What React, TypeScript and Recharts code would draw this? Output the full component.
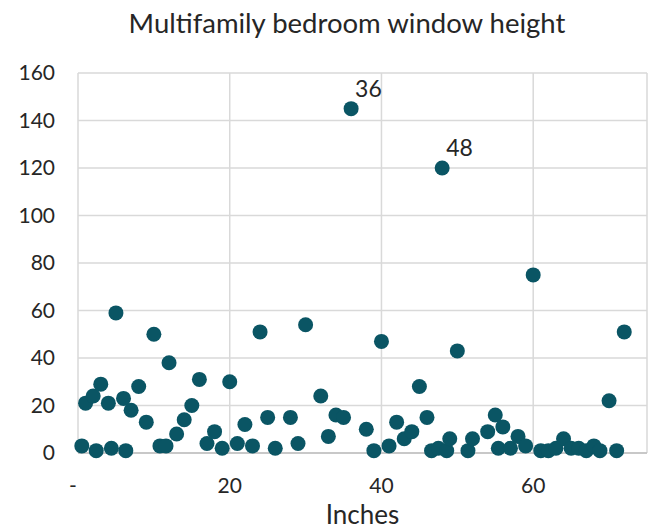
import React from 'react';
import { ScatterChart, Scatter, XAxis, YAxis, CartesianGrid } from 'recharts';

// window height in inches
const inches = [
  0.5, 1, 2, 2.4, 3, 4, 4.4, 5, 6, 6.3, 7, 8, 9, 10, 10.8, 11.6, 12, 13, 14, 15,
  16, 17, 18, 19, 20, 21, 22, 23, 24, 25, 26, 28, 29, 30, 32, 33, 34, 35, 36, 38,
  39, 40, 41, 42, 43, 44, 45, 46, 46.6, 47.5, 48, 48.6, 49, 50, 51.4, 52, 54, 55, 55.4, 56,
  57, 58, 59, 60, 61, 62, 63, 64, 65, 66, 67, 68, 68.8, 70, 71, 72,
];

// number of windows
const counts = [
  3, 21, 24, 1, 29, 21, 2, 59, 23, 1, 18, 28, 13, 50, 3, 3, 38, 8, 14, 20,
  31, 4, 9, 2, 30, 4, 12, 3, 51, 15, 2, 15, 4, 54, 24, 7, 16, 15, 145, 10,
  1, 47, 3, 13, 6, 9, 28, 15, 1, 2, 120, 1, 6, 43, 1, 6, 9, 16, 2, 11,
  2, 7, 3, 75, 1, 1, 2, 6, 2, 2, 1, 3, 1, 22, 1, 51,
];

const labeledInches = [36, 48];

const xTicks = [0, 20, 40, 60];
const yTicks = [0, 20, 40, 60, 80, 100, 120, 140, 160];

const data = inches.map((x, i) => ({
  x,
  y: counts[i],
  label: labeledInches.includes(x) ? String(x) : '',
}));

const DOT = '#0a5564';
const TEXT = '#262626';
const FONT = 'Lato, sans-serif';

function XTick({ x, y, payload }: any) {
  const zero = payload.value === 0;
  return (
    <text
      x={zero ? x - 5 : x}
      y={y}
      dy="0.71em"
      textAnchor="middle"
      fill={TEXT}
      fontSize={21}
      fontFamily={FONT}
    >
      {zero ? '-' : payload.value}
    </text>
  );
}

function Dot(props: any) {
  const { cx, cy, payload } = props;
  return (
    <g>
      <circle cx={cx} cy={cy} r={7.5} fill={DOT} />
      {payload.label ? (
        <text x={cx + 4} y={cy - 12} fill={TEXT} fontSize={23} fontFamily={FONT}>
          {payload.label}
        </text>
      ) : null}
    </g>
  );
}

export default function App() {
  return (
    <div style={{ position: 'relative', width: 652, height: 531, fontFamily: FONT, background: '#fff' }}>
      <style>{'body{margin:0}'}</style>
      <div
        style={{
          position: 'absolute',
          top: 6,
          left: 97,
          width: 500,
          textAlign: 'center',
          fontSize: 27.5,
          lineHeight: '34px',
          color: TEXT,
          whiteSpace: 'nowrap',
        }}
      >
        Multifamily bedroom window height
      </div>
      <ScatterChart width={652} height={531} margin={{ top: 73, right: 5, bottom: 0, left: 0 }}>
        <CartesianGrid stroke="#d9d9d9" strokeWidth={1.5} />
        <XAxis
          type="number"
          dataKey="x"
          domain={[0, 75]}
          ticks={xTicks}
          interval={0}
          height={78}
          axisLine={{ stroke: '#bfbfbf', strokeWidth: 1.5 }}
          tickLine={false}
          tickSize={0}
          tickMargin={25}
          tick={<XTick />}
          label={{ value: 'Inches', position: 'insideBottom', offset: 7, fill: TEXT, fontSize: 26, fontFamily: FONT }}
        />
        <YAxis
          type="number"
          dataKey="y"
          domain={[0, 160]}
          ticks={yTicks}
          interval={0}
          width={78}
          axisLine={false}
          tickLine={false}
          tickSize={0}
          tickMargin={23}
          tick={{ fill: TEXT, fontSize: 21, fontFamily: FONT }}
        />
        <Scatter data={data} fill={DOT} shape={<Dot />} isAnimationActive={false} />
      </ScatterChart>
    </div>
  );
}
